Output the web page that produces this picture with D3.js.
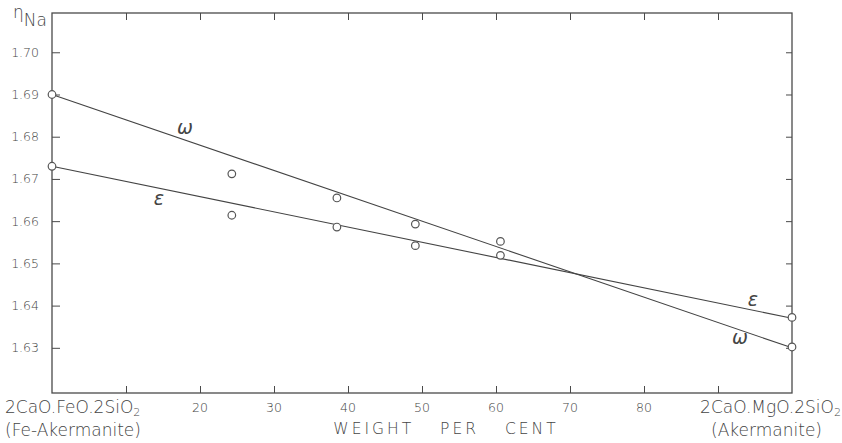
<!DOCTYPE html>
<html>
<head>
<meta charset="utf-8">
<script src="https://cdn.jsdelivr.net/npm/d3@7"></script>
<style>
  body { margin: 0; background: #fff; }
  svg { display: block; }
  text { font-family: "DejaVu Sans", sans-serif; fill: #444; }
</style>
</head>
<body>
<svg width="842" height="443"></svg>
<script>
// measured points, weight per cent of akermanite vs refractive index
const omegaX = [0, 24.3, 38.5, 49.1, 60.6, 100];
const omegaY = [1.690, 1.6712, 1.6655, 1.6593, 1.6552, 1.6302];
const epsX = [0, 24.3, 38.5, 49.1, 60.6, 100];
const epsY = [1.673, 1.6614, 1.6586, 1.6542, 1.6519, 1.6372];
// fitted straight lines (end values)
const omegaLine = [[0, 1.690], [100, 1.630]];
const epsLine = [[0, 1.673], [100, 1.637]];
const xTicks = [10, 20, 30, 40, 50, 60, 70, 80, 90];
const xTickLabels = ['', '20', '30', '40', '50', '60', '70', '80', ''];
const yTicks = [1.63, 1.64, 1.65, 1.66, 1.67, 1.68, 1.69, 1.70];

const svg = d3.select('svg');
const frame = {left: 52, right: 792, top: 13, bottom: 393};

const x = d3.scaleLinear().domain([0, 100]).range([frame.left, frame.right]);
const y = d3.scaleLinear().domain([1.6193, 1.7093]).range([frame.bottom, frame.top]);

const ink = '#4a4a4a';

// frame
svg.append('rect')
  .attr('x', frame.left).attr('y', frame.top)
  .attr('width', frame.right - frame.left).attr('height', frame.bottom - frame.top)
  .attr('fill', 'none').attr('stroke', ink).attr('stroke-width', 1.3);

// left axis with inward ticks
const gl = svg.append('g').attr('transform', `translate(${frame.left},0)`)
  .call(d3.axisRight(y).tickValues(yTicks).tickSize(8).tickFormat(''));
gl.select('.domain').remove();
gl.selectAll('line').attr('stroke', ink);
svg.selectAll('.ylab')
  .data(yTicks)
  .enter()
  .append('text')
  .attr('class', 'ylab')
  .attr('x', 39)
  .attr('y', d => y(d) + 4.5)
  .attr('text-anchor', 'end')
  .attr('font-size', 12.5)
  .attr('font-weight', 300)
  .text(d => d.toFixed(2));

// right axis, ticks only
const gr = svg.append('g').attr('transform', `translate(${frame.right},0)`)
  .call(d3.axisLeft(y).tickValues(yTicks).tickSize(6).tickFormat(''));
gr.select('.domain').remove();
gr.selectAll('line').attr('stroke', ink);

// bottom axis
const gb = svg.append('g').attr('transform', `translate(0,${frame.bottom})`)
  .call(d3.axisTop(x).tickValues(xTicks).tickSize(7).tickFormat(''));
gb.select('.domain').remove();
gb.selectAll('line').attr('stroke', ink);
svg.selectAll('.xlab')
  .data(xTicks)
  .enter()
  .append('text')
  .attr('class', 'xlab')
  .attr('x', d => x(d))
  .attr('y', 412)
  .attr('text-anchor', 'middle')
  .attr('font-size', 12.5)
  .attr('font-weight', 300)
  .attr('fill', '#666')
  .text((d, i) => xTickLabels[i]);

// top axis
const gt = svg.append('g').attr('transform', `translate(0,${frame.top})`)
  .call(d3.axisBottom(x).tickValues(xTicks).tickSize(7).tickFormat(''));
gt.select('.domain').remove();
gt.selectAll('line').attr('stroke', ink);

// end member labels
const endLab = (tx, ty, anchor, parts, size) => {
  const t = svg.append('text')
    .attr('x', tx).attr('y', ty)
    .attr('text-anchor', anchor)
    .attr('font-size', size)
    .attr('font-weight', 300)
    .attr('fill', '#555');
  parts.forEach(p => {
    const s = t.append('tspan').text(p[0]);
    if (p[1]) s.attr('dy', 2.5).attr('font-size', size * 0.65);
  });
};
endLab(5, 413, 'start', [['2CaO.FeO.2SiO'], ['2', true]], 17);
endLab(5, 436, 'start', [['(Fe-Akermanite)']], 17);
endLab(841, 413, 'end', [['2CaO.MgO.2SiO'], ['2', true]], 17);
endLab(822, 436, 'end', [['(Akermanite)']], 17);

svg.append('text')
  .attr('x', 446).attr('y', 434)
  .attr('text-anchor', 'middle')
  .attr('font-size', 15.5)
  .attr('font-weight', 300)
  .attr('fill', '#555')
  .attr('letter-spacing', 3)
  .attr('word-spacing', 18)
  .text('WEIGHT PER CENT');

// y axis title
const yt = svg.append('text').attr('x', 13).attr('y', 22).attr('font-weight', 300);
yt.append('tspan').attr('font-size', 17).attr('dy', -4).text('η');
yt.append('tspan').attr('font-size', 17).attr('dy', 8).text('Na');

// lines
const line = d3.line().x(d => x(d[0])).y(d => y(d[1]));
[omegaLine, epsLine].forEach(l => {
  svg.append('path')
    .attr('d', line(l))
    .attr('fill', 'none')
    .attr('stroke', '#444')
    .attr('stroke-width', 1.1);
});

// data points
const pts = omegaX.map((v, i) => [v, omegaY[i]])
  .concat(epsX.map((v, i) => [v, epsY[i]]));
svg.selectAll('.pt')
  .data(pts)
  .enter()
  .append('circle')
  .attr('class', 'pt')
  .attr('cx', d => x(d[0]))
  .attr('cy', d => y(d[1]))
  .attr('r', 3.8)
  .attr('fill', '#fff')
  .attr('stroke', '#555')
  .attr('stroke-width', 1.2);

// curve labels
const curveLab = (tx, ty, s) => {
  svg.append('text')
    .attr('x', tx).attr('y', ty)
    .attr('text-anchor', 'middle')
    .attr('font-family', '"DejaVu Serif", serif')
    .attr('font-style', 'italic')
    .attr('font-size', 19)
    .attr('font-weight', 300)
    .text(s);
};
curveLab(185, 134, 'ω');
curveLab(159, 205, 'ε');
curveLab(753, 306, 'ε');
curveLab(740, 344, 'ω');
</script>
</body>
</html>
